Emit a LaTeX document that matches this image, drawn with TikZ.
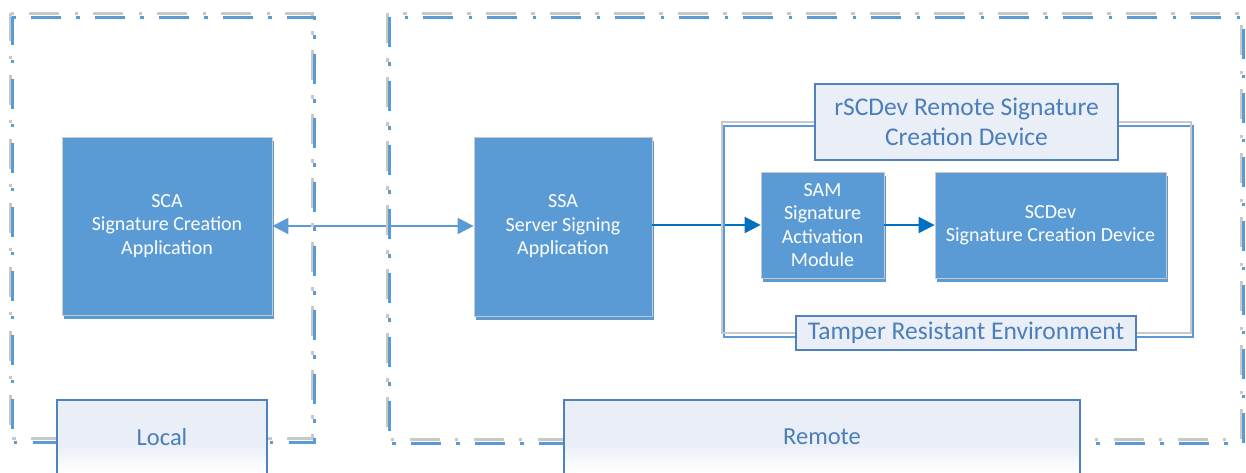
\documentclass[tikz,border=0pt]{standalone}
\usepackage{fontspec}
\setmainfont{Carlito}
\usetikzlibrary{arrows.meta,shadows}
\definecolor{boxblue}{HTML}{5B9BD5}
\definecolor{lineblue}{HTML}{5B9BD5}
\definecolor{darkarrow}{HTML}{0070C0}
\definecolor{framegray}{HTML}{C8C8C8}
\definecolor{labelfill}{HTML}{E9EEF7}
\definecolor{labelblue}{HTML}{4F81BD}
\definecolor{labeltext}{HTML}{4A7EBB}
\definecolor{edgegray}{HTML}{C9C9C9}
\begin{document}
\begin{tikzpicture}[x=1pt,y=-1pt,
 blockbox/.style={rectangle, fill=boxblue, draw=edgegray, line width=0.8pt, text=white, align=center,
   font=\fontsize{20}{23.5}\selectfont, inner sep=0pt,
   general shadow={fill=boxblue, shadow xshift=1.5pt, shadow yshift=-4pt}},
 labelbox/.style={rectangle, fill=labelfill, draw=labelblue, line width=1.5pt, text=labeltext, align=center,
   font=\fontsize{25.5}{30}\selectfont, inner sep=0pt},
 labeltextstyle/.style={text=labeltext, font=\fontsize{24.5}{30}\selectfont, inner sep=0pt},
 framedash/.style={line width=3pt, dash pattern=on 3.5pt off 15pt on 30pt off 15.5pt},
 biarrow/.style={lineblue, line width=2pt, {Triangle[length=16pt,width=16pt]}-{Triangle[length=16pt,width=16pt]}},
 darrow/.style={darkarrow, line width=2pt, -{Triangle[length=16pt,width=16pt]}},
]
\useasboundingbox (0,0) rectangle (1246,472);

% blocks
\node[blockbox, minimum width=210pt, minimum height=178pt] (sca) at (167,226) {SCA\\Signature Creation\\Application};
\node[blockbox, minimum width=178pt, minimum height=179pt] (ssa) at (563,226.5) {SSA\\Server Signing\\Application};
\node[blockbox, minimum width=123pt, minimum height=106pt] (sam) at (822.5,225) {SAM\\Signature\\Activation\\Module};
\node[blockbox, minimum width=231pt, minimum height=106pt] (scdev) at (1050.5,225) {SCDev\\Signature Creation Device};

% connectors
\draw[biarrow] (sca.east) -- (sca.east -| ssa.west);
\draw[darrow] (ssa.east |- sam.west) -- (sam.west);
\draw[darrow] (sam.east) -- (scdev.west);

% dash-dot frames
\draw[framegray, framedash] (10.5,13) -- (312.5,13) -- (312.5,438) -- (10.5,438) -- cycle;
\draw[lineblue, framedash] (12,17) -- (314,17) -- (314,442) -- (12,442) -- cycle;
\draw[framegray, framedash, dash phase=48.5pt] (387.5,13) -- (1241.5,13) -- (1241.5,439) -- (387.5,439) -- cycle;
\draw[lineblue, framedash, dash phase=48.5pt] (389,17) -- (1243,17) -- (1243,443) -- (389,443) -- cycle;

% tamper resistant frame
\draw[lineblue, line width=2pt] (724,126) rectangle (1193,337);
\draw[framegray, line width=2pt] (722,122) rectangle (1191,333);

\node[labelbox, minimum width=303pt, minimum height=76pt] (rscdev) at (966.5,122) {rSCDev Remote Signature\\Creation Device};
\node[labelbox, minimum width=340pt, minimum height=34pt] (tre) at (966,333) {Tamper Resistant Environment};

% Local / Remote tabs
\fill[labelfill] (57,400) rectangle (267,445);
\shade[top color=labelfill, bottom color=white] (57,444) rectangle (267,472);
\draw[labelblue, line width=1.5pt] (57,473) -- (57,400) -- (267,400) -- (267,473);
\node[labeltextstyle] (local) at (162,437) {Local};

\fill[labelfill] (564,400) rectangle (1080,445);
\shade[top color=labelfill, bottom color=white] (564,444) rectangle (1080,472);
\draw[labelblue, line width=1.5pt] (564,473) -- (564,400) -- (1080,400) -- (1080,473);
\node[labeltextstyle] (remote) at (822,437) {Remote};
\end{tikzpicture}
\end{document}
